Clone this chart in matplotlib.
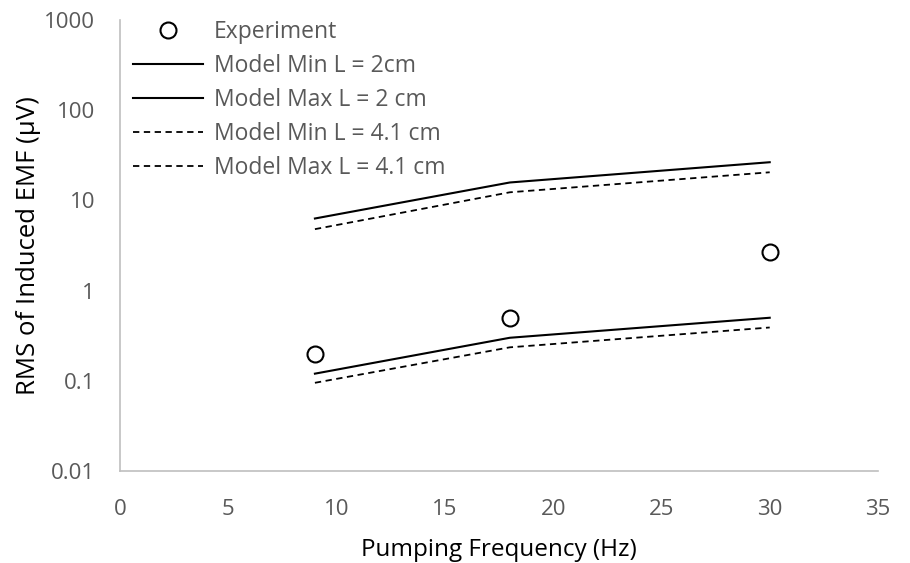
import matplotlib
matplotlib.use("Agg")
import matplotlib.pyplot as plt
from matplotlib.ticker import FixedLocator, FixedFormatter, NullLocator

plt.rcParams['font.family'] = ['Open Sans', 'DejaVu Sans']

freq = [9, 18, 30]
experiment = [0.2, 0.5, 2.7]
min_2cm = [0.12, 0.30, 0.50]
max_2cm = [6.3, 15.8, 26.5]
min_41cm = [0.095, 0.235, 0.39]
max_41cm = [4.8, 12.3, 20.5]

yticks = [0.01, 0.1, 1, 10, 100, 1000]
ytick_labels = ["0.01", "0.1", "1", "10", "100", "1000"]
xticks = [0, 5, 10, 15, 20, 25, 30, 35]

grey = "#595959"
W, H = 910, 563

fig = plt.figure(figsize=(W / 100, H / 100), dpi=100)
ax = fig.add_axes([120 / W, 1 - 471 / H, (878 - 120) / W, (471 - 20) / H])

ax.plot(freq, experiment, 'o', ms=11.5, mfc='white', mec='black', mew=1.5,
        ls='none', label="Experiment")
ax.plot(freq, min_2cm, color='black', lw=1.5, label="Model Min L = 2cm")
ax.plot(freq, max_2cm, color='black', lw=1.5, label="Model Max L = 2 cm")
ax.plot(freq, min_41cm, color='black', lw=1.3, dashes=(3.5, 2.5),
        label="Model Min L = 4.1 cm")
ax.plot(freq, max_41cm, color='black', lw=1.3, dashes=(3.5, 2.5),
        label="Model Max L = 4.1 cm")

ax.set_yscale('log')
ax.set_ylim(0.01, 1000)
ax.set_xlim(0, 35)
ax.yaxis.set_major_locator(FixedLocator(yticks))
ax.yaxis.set_major_formatter(FixedFormatter(ytick_labels))
ax.yaxis.set_minor_locator(NullLocator())
ax.set_xticks(xticks)

for s in ['top', 'right']:
    ax.spines[s].set_visible(False)
for s in ['left', 'bottom']:
    ax.spines[s].set_color('#BFBFBF')
    ax.spines[s].set_linewidth(1.2)

ax.tick_params(axis='both', length=0, labelsize=16, colors=grey)
ax.tick_params(axis='x', pad=20)
ax.tick_params(axis='y', pad=18)

ax.set_xlabel("Pumping Frequency (Hz)", fontsize=17.5, color='black', labelpad=13)
ax.set_ylabel("RMS of Induced EMF (\u03bcV)", fontsize=18.5, color='black', labelpad=2)

leg = ax.legend(loc='upper left', bbox_to_anchor=(0.017, 1.0), frameon=False,
                fontsize=16.5, handlelength=3.05, handletextpad=0.48,
                labelspacing=0.44, borderaxespad=0, borderpad=0)
for t in leg.get_texts():
    t.set_color(grey)

fig.savefig("out.png", dpi=100)
